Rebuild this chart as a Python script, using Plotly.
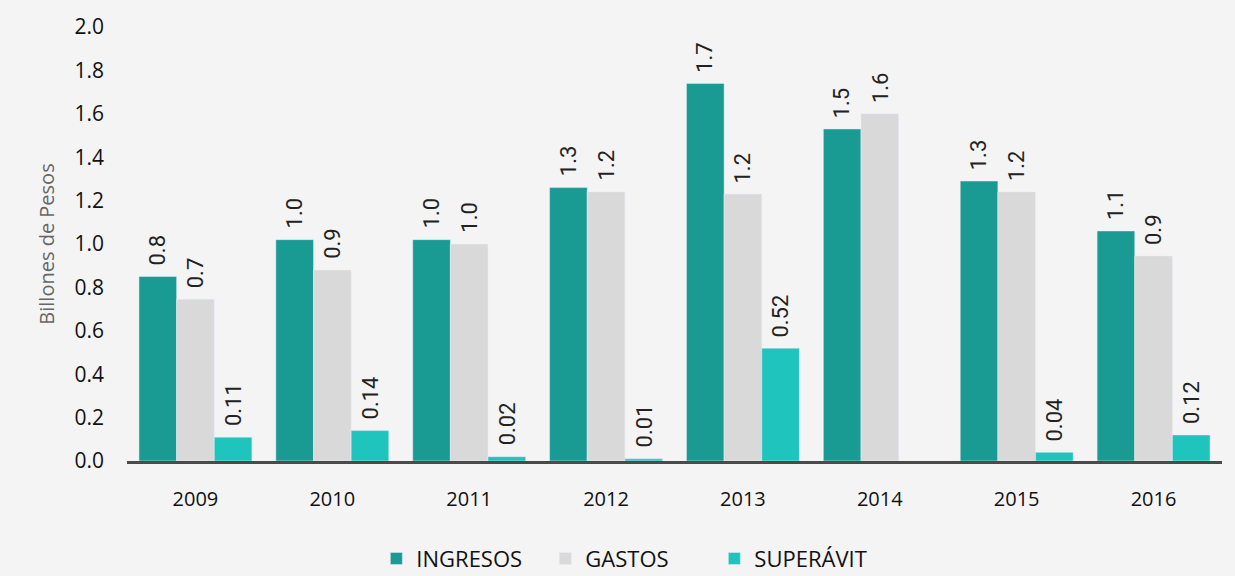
import plotly.graph_objects as go

years = ['2009', '2010', '2011', '2012', '2013', '2014', '2015', '2016']
ingresos = [0.85, 1.02, 1.02, 1.26, 1.74, 1.53, 1.29, 1.06]
gastos = [0.745, 0.88, 1.00, 1.24, 1.23, 1.60, 1.24, 0.945]
superavit = [0.11, 0.14, 0.02, 0.01, 0.52, None, 0.04, 0.12]

c_ing = '#199a93'
c_gas = '#d9d9d9'
c_sup = '#1fc4bc'

lbl_font = dict(family='Roboto, Arial, sans-serif', size=22, color='#222222')

fig = go.Figure()
series = [('INGRESOS', ingresos, c_ing, '.1f', 0),
          ('GASTOS', gastos, c_gas, '.1f', 1),
          ('SUPERÁVIT', superavit, c_sup, '.2f', 2)]
for name, vals, col, fmt, i in series:
    fig.add_trace(go.Bar(x=years, y=vals, name=name, marker_color=col,
                         offsetgroup=str(i), cliponaxis=False))

# value labels above bars
n = len(series)
for name, vals, col, fmt, i in series:
    for j, v in enumerate(vals):
        if v is None:
            continue
        fig.add_annotation(x=j, y=v, text=format(v, fmt), textangle=-90,
                           xshift=(i - (n - 1) / 2) * 38, yshift=9,
                           yanchor='bottom', showarrow=False, font=lbl_font)

fig.update_layout(
    width=1235, height=576,
    margin=dict(l=127, r=13, t=21, b=115),
    paper_bgcolor='#f4f4f4', plot_bgcolor='#f4f4f4',
    barmode='group', bargap=0.175, bargroupgap=0,
    font=dict(family='Open Sans, Lato, sans-serif', color='#111111'),
    xaxis=dict(showgrid=False, showline=True, linecolor='#4a4a4a', linewidth=3,
               tickfont=dict(size=20, color='#111111'), ticks='', ticklabelstandoff=18),
    yaxis=dict(range=[0, 2.0], dtick=0.2, tickformat='.1f', showgrid=False,
               zeroline=False, tickfont=dict(size=21, color='#111111'),
               ticklabelstandoff=22,
               title=dict(text='Billones de Pesos', font=dict(size=20, color='#666666'), standoff=14)),
    legend=dict(orientation='h', x=0.51, xanchor='center', xref='container',
                y=0.03, yanchor='middle', yref='container', entrywidth=124,
                font=dict(size=22, color='#111111'), itemwidth=30, traceorder='normal'),
)

fig.write_html('out.html', config={'displayModeBar': False},
               post_script="document.body.style.margin='0';")
